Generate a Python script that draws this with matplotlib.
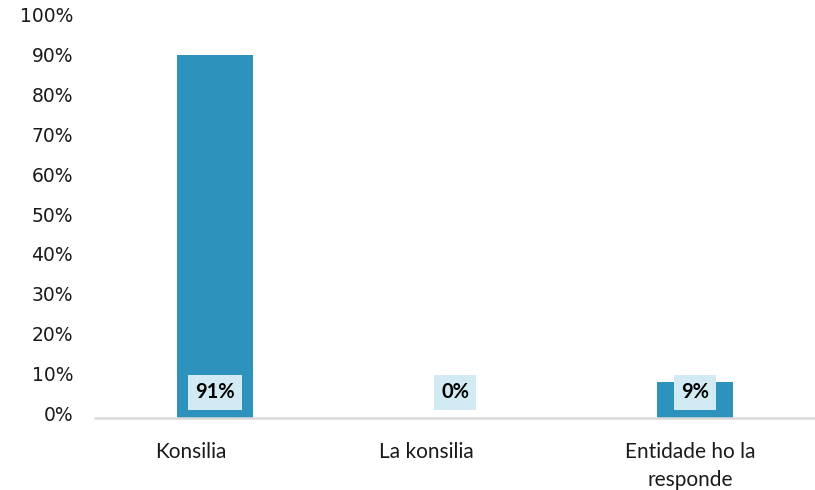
import matplotlib
matplotlib.use("Agg")
import matplotlib.pyplot as plt
import matplotlib.transforms as mtransforms
from matplotlib.ticker import PercentFormatter

# Survey answers
categories = ["Konsilia", "La konsilia", "Entidade ho la\nresponde"]
shares = [91, 0, 9]
labels = ["91%", "0%", "9%"]

bar_color = "#2E93BC"
box_color = "#D1EAF4"

fig = plt.figure(figsize=(8.15, 4.9), dpi=100)
ax = fig.add_axes([0.1166, 0.1469, 0.8834, 0.8143])

x = range(len(categories))
ax.bar(x, shares, width=0.315, color=bar_color, zorder=2)

# value labels sit in small boxes near the bar base
for xi, lab in zip(x, labels):
    ax.annotate(lab, xy=(xi, 0), xytext=(0, 18.4), textcoords="offset points",
                ha="center", va="center", fontsize=14.5, fontweight="bold",
                family="Lato", zorder=3,
                bbox=dict(boxstyle="square,pad=0.36", fc=box_color, ec="none"))

ax.set_xlim(-0.5, 2.5)
ax.set_ylim(0, 100)
ax.set_yticks(range(0, 101, 10))
ax.yaxis.set_major_formatter(PercentFormatter(decimals=0))
ax.set_xticks(list(x))
ax.set_xticklabels(categories, family="Lato", fontsize=15, linespacing=1.53)

for side in ["top", "right", "left"]:
    ax.spines[side].set_visible(False)
ax.spines["bottom"].set_color("#D9D9D9")
ax.spines["bottom"].set_linewidth(1.8)
ax.tick_params(axis="both", length=0)
ax.tick_params(axis="y", labelsize=13.5, pad=15.8, colors="#1a1a1a")
ax.tick_params(axis="x", pad=17, colors="#1a1a1a")

# nudge the percentage labels up a little
shift = mtransforms.ScaledTranslation(0, 4.5 / 100, fig.dpi_scale_trans)
for t in ax.get_yticklabels():
    t.set_transform(t.get_transform() + shift)

# category labels sit a bit left of the bar centres
x_nudge = [-24, -29, -5]  # pixels
for t, dx in zip(ax.get_xticklabels(), x_nudge):
    t.set_transform(t.get_transform() +
                    mtransforms.ScaledTranslation(dx / 100, 0, fig.dpi_scale_trans))

fig.savefig("out.png", dpi=100)
